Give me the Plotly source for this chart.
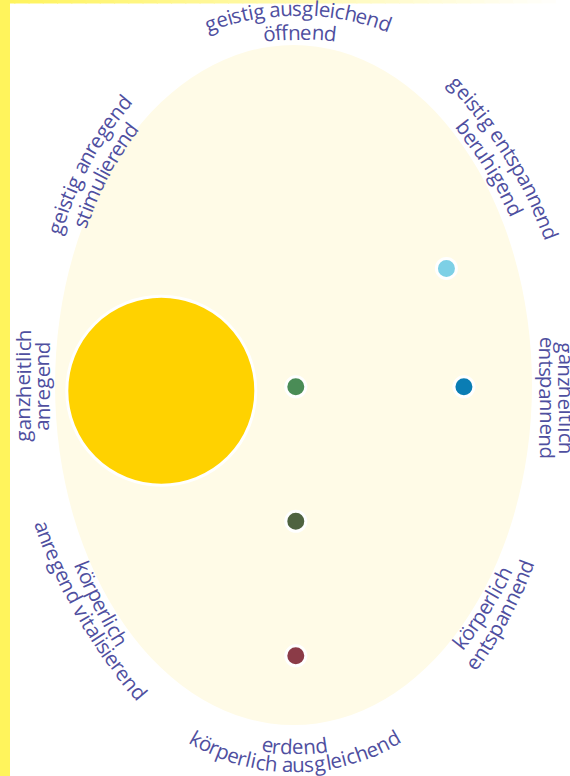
import math
import plotly.graph_objects as go

# ---------------- data ----------------
dot_names = ["gelb", "grün", "hellblau", "blau", "olivgrün", "weinrot"]
dot_x = [-1.0, 0.0, 1.12, 1.25, 0.0, 0.0]
dot_y = [-0.03, 0.0, 0.88, 0.0, -1.0, -2.0]

label_lines = [
    "geistig ausgleichend", "öffnend",
    "geistig entspannend", "beruhigend",
    "ganzheitlich", "entspannend",
    "körperlich", "entspannend",
    "körperlich ausgleichend", "erdend",
    "körperlich", "anregend vitalisierend",
    "ganzheitlich", "anregend",
    "geistig anregend", "stimulierend",
]

# ---------------- style / layout ----------------
W, H = 570, 776
UNIT = 134.5                  # px per data unit
ORIGIN = (295.8, 386.8)       # pixel of data (0,0)
dot_colors = ["#FFD200", "#4A8C56", "#7DD0E6", "#0A7DB4", "#4F6340", "#8B3B47"]
dot_sizes = [189, 20, 20, 20, 20, 20]
ELLIPSE = dict(cx=-0.017, cy=0.013, rx=1.773, ry=2.528)
TEXT_COLOR = "#4F4FA0"
FONT = "Open Sans"
FONT_SIZE = 20.5
SPACING = 22.0                # em size used for advance widths
UPOFF = 2.5

# (mid x px, mid y px, angle deg, radius px or None, kind)
line_geom = [
    (298, 10, 0, 250, "out"), (300, 34, 0, 270, "out"),
    (509, 155, 58, 450, "out"), (490, 168, 58, 431, "out"),
    (564, 398, 90, None, "out"), (545, 398, 90, None, "out"),
    (485.5, 609.5, -57.6, 400, "in"), (504.5, 616.5, -61.8, 420, "in"),
    (295, 767, 0, 200, "in"), (295, 749, 0, 186, "in"),
    (98.5, 605, 63, 530, "in"), (82, 615, 60, 550, "in"),
    (25, 386, -90, None, "out"), (44, 386, -90, None, "out"),
    (85, 163, -61.7, 350, "out"), (104, 174, -61.7, 331, "out"),
]

ADV = {" ": 212, "a": 482, "b": 569, "c": 448, "d": 564, "e": 501, "f": 292,
       "g": 559, "h": 555, "i": 234, "k": 469, "l": 236, "m": 834, "n": 555,
       "o": 549, "p": 569, "r": 327, "s": 396, "t": 331, "u": 551, "v": 481,
       "z": 428, "ö": 549}

xr = [(0 - ORIGIN[0]) / UNIT, (W - ORIGIN[0]) / UNIT]
yr = [(ORIGIN[1] - H) / UNIT, ORIGIN[1] / UNIT]

annotations = []


def place_line(text, mx, my, ang, R, kind):
    a = math.radians(ang)
    up = (math.sin(a), -math.cos(a))
    down = (-up[0], -up[1])
    widths = [ADV[c] * SPACING / 1000 for c in text]
    total = sum(widths)
    cum = 0.0
    for c, w in zip(text, widths):
        s = cum + w / 2 - total / 2
        cum += w
        if c == " ":
            continue
        if R is None:
            px, py, b = mx + s * math.cos(a), my + s * math.sin(a), a
        else:
            if kind == "out":
                cx, cy = mx + R * down[0], my + R * down[1]
                phi = s / R
            else:
                cx, cy = mx + R * up[0], my + R * up[1]
                phi = -s / R
            vx, vy = mx - cx, my - cy
            px = cx + vx * math.cos(phi) - vy * math.sin(phi)
            py = cy + vx * math.sin(phi) + vy * math.cos(phi)
            b = a + phi
        px += UPOFF * math.sin(b)
        py -= UPOFF * math.cos(b)
        annotations.append(dict(
            x=px / W, y=1 - py / H, xref="paper", yref="paper",
            text=c, showarrow=False, textangle=math.degrees(b),
            xanchor="center", yanchor="middle",
            font=dict(family=FONT, size=FONT_SIZE, color=TEXT_COLOR)))


for txt, g in zip(label_lines, line_geom):
    place_line(txt, *g)

shapes = [dict(type="circle", xref="x", yref="y", layer="below",
               x0=ELLIPSE["cx"] - ELLIPSE["rx"], x1=ELLIPSE["cx"] + ELLIPSE["rx"],
               y0=ELLIPSE["cy"] - ELLIPSE["ry"], y1=ELLIPSE["cy"] + ELLIPSE["ry"],
               fillcolor="#FFFBE7", line=dict(width=0))]
# top strip fading yellow -> white
NSEG = 40
for i in range(NSEG):
    t = i / (NSEG - 1)
    col = "rgb(255,%d,%d)" % (int(244 + 11 * t), int(92 + 163 * t))
    shapes.append(dict(type="rect", xref="paper", yref="paper", layer="below",
                       x0=i / NSEG, x1=(i + 1) / NSEG + 0.002,
                       y0=1 - 3.5 / H, y1=1, fillcolor=col, line=dict(width=0)))
shapes.append(dict(type="rect", xref="paper", yref="paper", layer="above",
                   x0=0, x1=10 / W, y0=0, y1=1, fillcolor="#FFF45C",
                   line=dict(width=0)))

fig = go.Figure()
fig.add_trace(go.Scatter(
    x=dot_x, y=dot_y, mode="markers", text=dot_names, hoverinfo="skip",
    marker=dict(size=dot_sizes, color=dot_colors, opacity=1,
                line=dict(color="white", width=3)),
    cliponaxis=False, showlegend=False))

fig.update_layout(
    width=W, height=H, autosize=False,
    margin=dict(l=0, r=0, t=0, b=0, pad=0),
    paper_bgcolor="white", plot_bgcolor="white",
    xaxis=dict(range=xr, visible=False, showgrid=False, zeroline=False, fixedrange=True),
    yaxis=dict(range=yr, visible=False, showgrid=False, zeroline=False, fixedrange=True),
    shapes=shapes, annotations=annotations,
)

fig.write_html("out.html", config={"displayModeBar": False},
               post_script="document.body.style.margin='0';document.body.style.overflow='hidden';")
